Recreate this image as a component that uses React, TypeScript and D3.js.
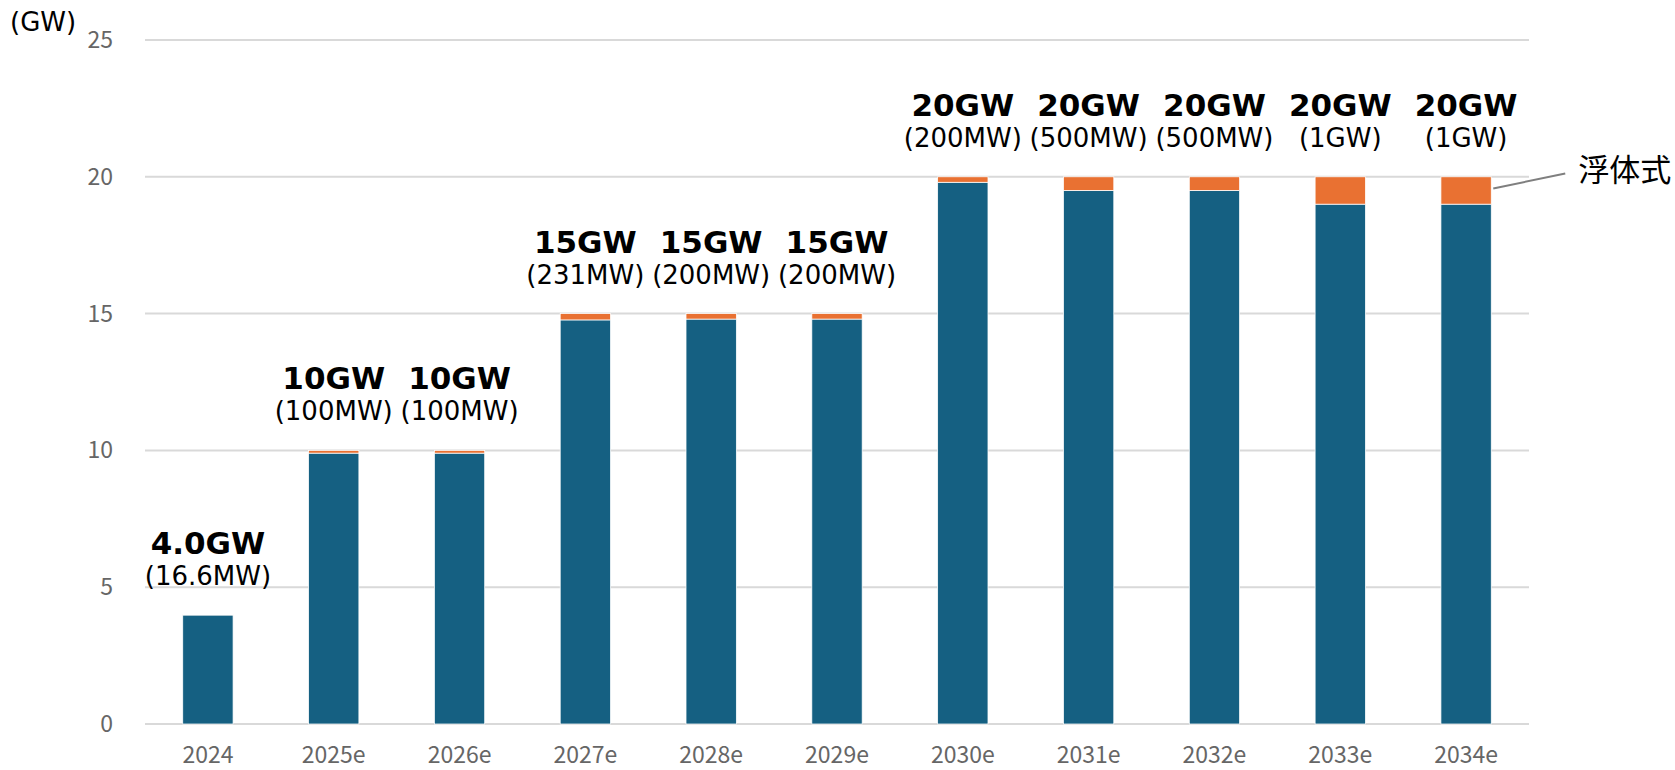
import * as d3 from 'd3';
import React, { useEffect, useRef } from 'react';

// categories (year) and stacked values in GW
const years = ['2024', '2025e', '2026e', '2027e', '2028e', '2029e', '2030e', '2031e', '2032e', '2033e', '2034e'];
const totalGW = [4.0, 10, 10, 15, 15, 15, 20, 20, 20, 20, 20];
const floatingGW = [0.0166, 0.1, 0.1, 0.231, 0.2, 0.2, 0.2, 0.5, 0.5, 1, 1];
const totalLabels = ['4.0GW', '10GW', '10GW', '15GW', '15GW', '15GW', '20GW', '20GW', '20GW', '20GW', '20GW'];
const floatingLabels = ['(16.6MW)', '(100MW)', '(100MW)', '(231MW)', '(200MW)', '(200MW)', '(200MW)', '(500MW)', '(500MW)', '(1GW)', '(1GW)'];
const yTicks = [0, 5, 10, 15, 20, 25];

const BLUE = '#156082';
const ORANGE = '#E97132';
const JP = '"Noto Sans CJK JP", "Noto Sans", sans-serif';
const LATIN = '"DejaVu Sans", "Noto Sans", sans-serif';

function App() {
    const chartRef = useRef<SVGSVGElement>(null);

    useEffect(() => {
        const svg = d3.select(chartRef.current);
        svg.selectAll('*').remove();

        const x = d3.scaleBand()
            .domain(years)
            .range([145, 1529])
            .paddingInner(0.6)
            .paddingOuter(0.3);

        const y = d3.scaleLinear()
            .domain([0, 25])
            .range([724, 40]);

        // gridlines
        svg.append('g')
            .selectAll('line')
            .data(yTicks)
            .enter().append('line')
            .attr('x1', 145)
            .attr('x2', 1529)
            .attr('y1', d => y(d))
            .attr('y2', d => y(d))
            .attr('stroke', '#d9d9d9')
            .attr('stroke-width', 2);

        // y tick labels
        svg.append('g')
            .selectAll('text')
            .data(yTicks)
            .enter().append('text')
            .attr('x', 113)
            .attr('y', d => y(d) + 8)
            .attr('text-anchor', 'end')
            .attr('font-family', JP)
            .attr('font-size', 23)
            .attr('fill', '#666666')
            .text(d => d);

        svg.append('text')
            .attr('x', 10)
            .attr('y', 31)
            .attr('font-family', LATIN)
            .attr('font-size', 26)
            .attr('fill', '#000')
            .text('(GW)');

        const rows = years.map((yr, i) => ({
            yr,
            fixed: totalGW[i] - floatingGW[i],
            total: totalGW[i],
            top: totalLabels[i],
            sub: floatingLabels[i],
        }));

        const bw = x.bandwidth();

        // fixed-bottom part
        svg.append('g')
            .selectAll('rect')
            .data(rows)
            .enter().append('rect')
            .attr('x', d => x(d.yr)!)
            .attr('width', bw)
            .attr('y', d => y(d.fixed))
            .attr('height', d => y(0) - y(d.fixed))
            .attr('fill', BLUE)
            .attr('stroke', '#fff')
            .attr('stroke-width', 0.75);

        // floating part
        svg.append('g')
            .selectAll('rect')
            .data(rows)
            .enter().append('rect')
            .attr('x', d => x(d.yr)!)
            .attr('width', bw)
            .attr('y', d => y(d.total))
            .attr('height', d => y(d.fixed) - y(d.total))
            .attr('fill', ORANGE)
            .attr('stroke', '#fff')
            .attr('stroke-width', 0.75);

        // x labels
        svg.append('g')
            .selectAll('text')
            .data(rows)
            .enter().append('text')
            .attr('x', d => x(d.yr)! + bw / 2)
            .attr('y', 763)
            .attr('text-anchor', 'middle')
            .attr('font-family', JP)
            .attr('font-size', 23)
            .attr('fill', '#666666')
            .text(d => d.yr);

        // value labels above bars
        const labels = svg.append('g');
        labels.selectAll('text.top')
            .data(rows)
            .enter().append('text')
            .attr('class', 'top')
            .attr('x', d => x(d.yr)! + bw / 2)
            .attr('y', d => y(d.total) - 61)
            .attr('text-anchor', 'middle')
            .attr('font-family', LATIN)
            .attr('font-weight', 'bold')
            .attr('font-size', 31)
            .attr('fill', '#000')
            .text(d => d.top);

        labels.selectAll('text.sub')
            .data(rows)
            .enter().append('text')
            .attr('class', 'sub')
            .attr('x', d => x(d.yr)! + bw / 2)
            .attr('y', d => y(d.total) - 30)
            .attr('text-anchor', 'middle')
            .attr('font-family', LATIN)
            .attr('font-size', 26)
            .attr('fill', '#000')
            .text(d => d.sub);

        // leader for 浮体式
        const last = rows[rows.length - 1];
        const lx = x(last.yr)! + bw + 2;
        const ly = (y(last.total) + y(last.fixed)) / 2 - 2;
        svg.append('line')
            .attr('x1', lx)
            .attr('y1', ly)
            .attr('x2', lx + 72)
            .attr('y2', ly - 15)
            .attr('stroke', '#7f7f7f')
            .attr('stroke-width', 2);

        svg.append('text')
            .attr('x', lx + 85)
            .attr('y', ly - 7)
            .attr('font-family', JP)
            .attr('font-size', 31)
            .attr('fill', '#000')
            .text('浮体式');
    }, []);

    return (
        <svg
            ref={chartRef}
            width={1675}
            height={770}
            style={{ position: 'absolute', left: 0, top: 0, background: '#fff' }}
        />
    );
}

export default App;
